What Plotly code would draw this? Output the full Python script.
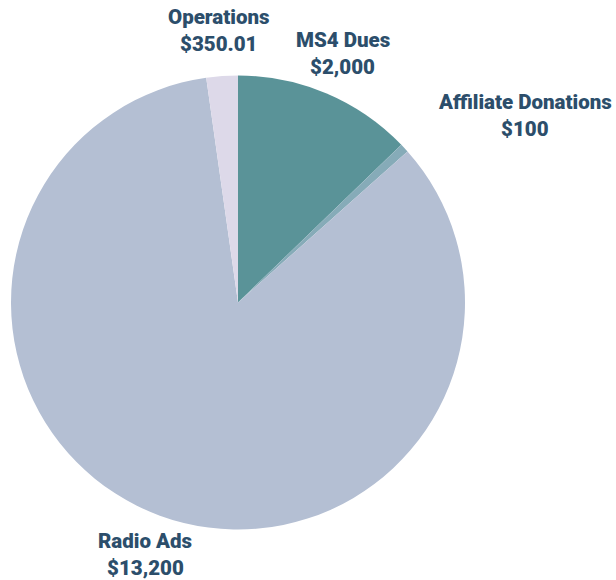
import plotly.graph_objects as go

# Budget breakdown
categories = ["MS4 Dues", "Affiliate Donations", "Radio Ads", "Operations"]
amounts = [2000, 100, 13200, 350.01]
amount_labels = ["$2,000", "$100", "$13,200", "$350.01"]
slice_colors = ["#5a9398", "#86abb8", "#b4bfd3", "#ddd9e9"]

W, H = 616, 580
text_color = "#2c4e6b"
font_family = "Roboto"

fig = go.Figure(
    go.Pie(
        labels=categories,
        values=amounts,
        sort=False,
        direction="clockwise",
        rotation=0,
        textinfo="none",
        hoverinfo="label+value",
        marker=dict(colors=slice_colors, line=dict(width=0)),
        domain=dict(x=[11 / W, 465 / W], y=[1 - 530 / H, 1 - 75 / H]),
        showlegend=False,
    )
)

# Label centres in pixels (name line); amount line sits 27px below
label_pos = {
    "MS4 Dues": (343, 40),
    "Affiliate Donations": (525, 102),
    "Radio Ads": (145, 541),
    "Operations": (219, 17),
}

annotations = []
for name, amt in zip(categories, amount_labels):
    px, py = label_pos[name]
    for text, yy in ((name, py), (amt, py + 27)):
        annotations.append(
            dict(
                x=px / W,
                y=1 - yy / H,
                xref="paper",
                yref="paper",
                xanchor="center",
                yanchor="middle",
                text=text,
                showarrow=False,
                font=dict(family=font_family, size=20.5, color=text_color, weight=900),
            )
        )

fig.update_layout(
    width=W,
    height=H,
    margin=dict(l=0, r=0, t=0, b=0),
    paper_bgcolor="white",
    plot_bgcolor="white",
    annotations=annotations,
)

fig.write_html("out.html")
